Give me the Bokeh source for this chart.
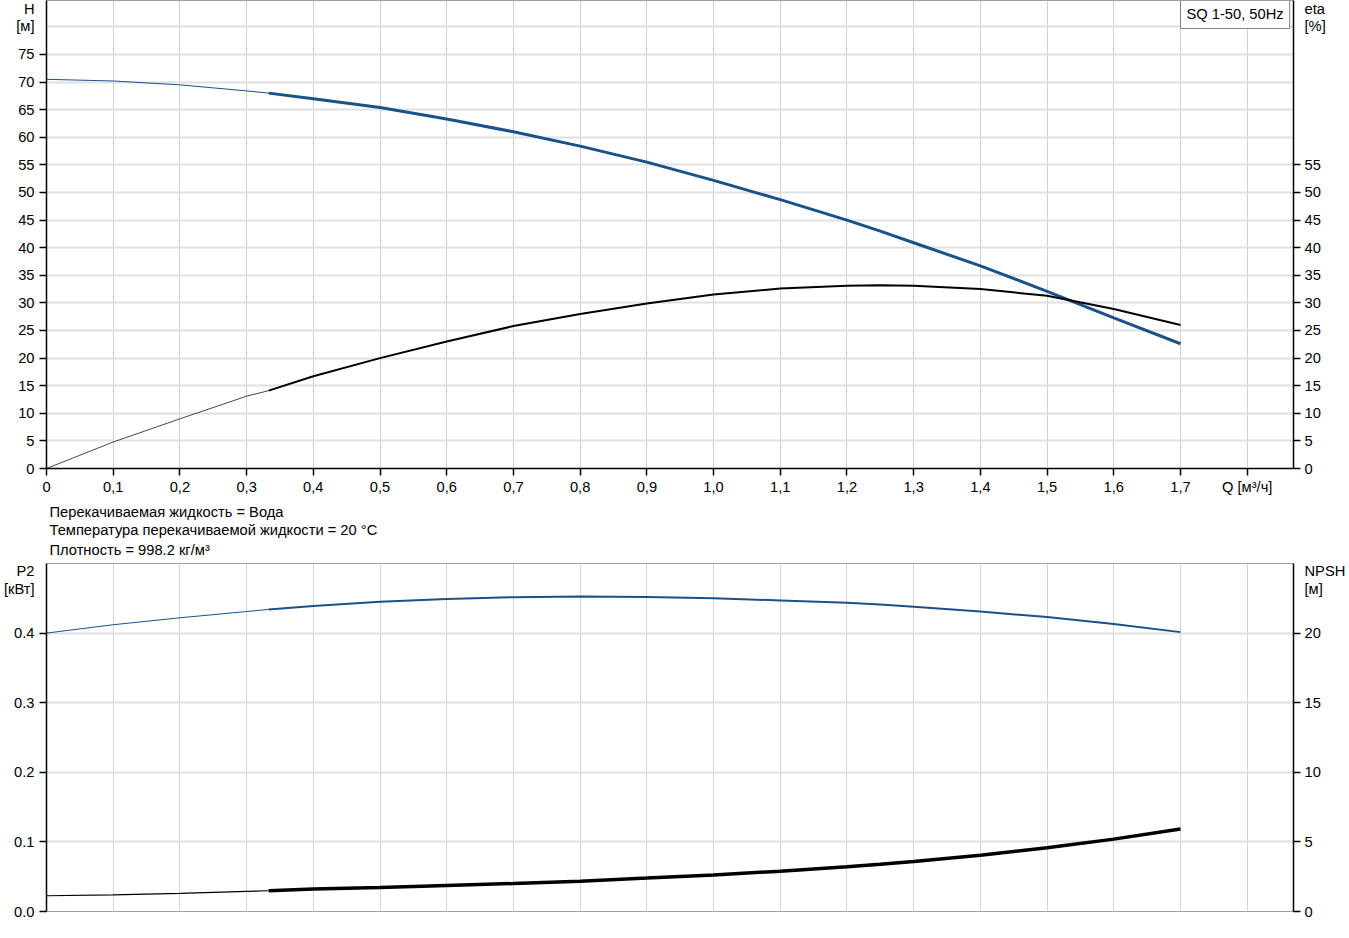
from bokeh.plotting import figure
from bokeh.models import (Range1d, LinearAxis, FixedTicker, Label, Title)
from bokeh.layouts import column
from bokeh.embed import file_html
from bokeh.resources import INLINE

# ---------------- data ----------------
Q = [0.0, 0.1, 0.2, 0.3, 0.333, 0.4, 0.5, 0.6, 0.7, 0.8, 0.9,
     1.0, 1.1, 1.2, 1.25, 1.3, 1.4, 1.5, 1.6, 1.7]
H = [70.5, 70.2, 69.5, 68.4, 68.0, 67.0, 65.4, 63.3, 61.0, 58.4, 55.5,
     52.2, 48.7, 45.0, 43.0, 40.9, 36.7, 32.1, 27.3, 22.6]
ETA = [0.0, 4.8, 9.0, 13.1, 14.1, 16.7, 20.0, 23.0, 25.8, 28.0, 29.9,
       31.5, 32.6, 33.1, 33.2, 33.1, 32.5, 31.3, 28.9, 26.0]
P2 = [0.400, 0.412, 0.422, 0.431, 0.434, 0.439, 0.445, 0.449, 0.4516, 0.4526, 0.452,
      0.450, 0.447, 0.4435, 0.441, 0.438, 0.431, 0.423, 0.413, 0.4014]
NPSH = [1.13, 1.20, 1.30, 1.44, 1.49, 1.61, 1.73, 1.87, 2.01, 2.18, 2.40,
        2.63, 2.90, 3.22, 3.40, 3.60, 4.04, 4.58, 5.20, 5.92]
SPLIT = 4  # index where the duty range (thick line) begins

X_TICKS = [0.0, 0.1, 0.2, 0.3, 0.4, 0.5, 0.6, 0.7, 0.8, 0.9,
           1.0, 1.1, 1.2, 1.3, 1.4, 1.5, 1.6, 1.7, 1.8]
X_LABELS = ["0", "0,1", "0,2", "0,3", "0,4", "0,5", "0,6", "0,7", "0,8", "0,9",
            "1,0", "1,1", "1,2", "1,3", "1,4", "1,5", "1,6", "1,7", "Q [м³/ч]"]
H_TICKS = [0, 5, 10, 15, 20, 25, 30, 35, 40, 45, 50, 55, 60, 65, 70, 75]
H_GRID = [5, 10, 15, 20, 25, 30, 35, 40, 45, 50, 55, 60, 65, 70, 75, 80]
ETA_TICKS = [0, 5, 10, 15, 20, 25, 30, 35, 40, 45, 50, 55]
P2_TICKS = [0.0, 0.1, 0.2, 0.3, 0.4]
P2_LABELS = ["0.0", "0.1", "0.2", "0.3", "0.4"]
NPSH_TICKS = [0, 5, 10, 15, 20]

INFO_LINES = ["Перекачиваемая жидкость = Вода",
              "Температура перекачиваемой жидкости = 20 °C",
              "Плотность = 998.2 кг/м³"]
TITLE = "SQ 1-50, 50Hz"
H_UNIT = ["H", "[м]"]
ETA_UNIT = ["eta", "[%]"]
P2_UNIT = ["P2", "[кВт]"]
NPSH_UNIT = ["NPSH", "[м]"]

# ---------------- styling ----------------
FONT = "Liberation Sans"
FS = "14.7px"
BLUE = "#1a5189"
BLACK = "#000000"
X_MAX = 1.8694
H_MAX = 84.78
FRAME_W = 1247


def style_axis(ax, standoff=5):
    ax.axis_line_color = BLACK
    ax.axis_line_width = 1.5
    ax.major_tick_line_color = BLACK
    ax.major_tick_line_width = 1.5
    ax.major_tick_out = 7
    ax.major_tick_in = 0
    ax.minor_tick_line_color = None
    ax.major_label_text_font = FONT
    ax.major_label_text_font_size = FS
    ax.major_label_text_color = BLACK
    ax.major_label_standoff = standoff


def value_axis(ax, ticks, labels, unit_pos, unit_labels, standoff=5):
    """Numbered ticks carry the tick marks (drawn as minor ticks); the unit
    caption sits above them as extra, mark-less labels of the same axis."""
    style_axis(ax)
    ax.ticker = FixedTicker(ticks=list(ticks) + list(unit_pos), minor_ticks=list(ticks))
    ax.major_label_overrides = dict(zip(list(ticks) + list(unit_pos),
                                        list(labels) + list(unit_labels)))
    ax.major_tick_line_color = None
    ax.major_tick_out = 0
    ax.major_label_standoff = standoff
    ax.minor_tick_line_color = BLACK
    ax.minor_tick_line_width = 1.5
    ax.minor_tick_out = 7
    ax.minor_tick_in = 0


# ---------------- top chart: H and eta ----------------
p1 = figure(frame_width=FRAME_W, frame_height=468,
            x_range=Range1d(0, X_MAX), y_range=Range1d(0, H_MAX),
            output_backend="svg", toolbar_location=None,
            min_border_left=45, min_border_right=56, min_border_top=0, min_border_bottom=32)
p1.extra_y_ranges = {"eta": Range1d(0, H_MAX)}
p1.outline_line_color = "#a0a0a0"

p1.xaxis.ticker = FixedTicker(ticks=X_TICKS)
p1.xaxis.major_label_overrides = dict(zip(X_TICKS, X_LABELS))
style_axis(p1.xaxis[0], standoff=3)
value_axis(p1.yaxis[0], H_TICKS, [str(t) for t in H_TICKS], [80.25, 83.3], H_UNIT[::-1])

ax_eta = LinearAxis(y_range_name="eta")
value_axis(ax_eta, ETA_TICKS, [str(t) for t in ETA_TICKS], [80.25, 83.3], ETA_UNIT[::-1], standoff=4)
p1.add_layout(ax_eta, "right")

p1.xgrid.ticker = FixedTicker(ticks=X_TICKS)
p1.ygrid.ticker = FixedTicker(ticks=H_GRID)
p1.xgrid.grid_line_color = "#cfcfcf"
p1.xgrid.grid_line_width = 1
p1.ygrid.grid_line_color = "#e0e0e0"
p1.ygrid.grid_line_width = 2

# H curve
p1.line(Q[:SPLIT + 1], H[:SPLIT + 1], line_color=BLUE, line_width=1)
p1.line(Q[SPLIT:], H[SPLIT:], line_color=BLUE, line_width=3)
# eta curve
p1.line(Q[:SPLIT + 1], ETA[:SPLIT + 1], line_color="#333333", line_width=0.9, y_range_name="eta")
p1.line(Q[SPLIT:], ETA[SPLIT:], line_color=BLACK, line_width=2, y_range_name="eta")

box = Label(x=1.700, y=82.25, text=TITLE, text_font=FONT, text_font_size=FS,
            text_color=BLACK, text_align="left", text_baseline="middle",
            background_fill_color="white", border_line_color="#808080",
            border_line_width=1, padding=6)
p1.add_layout(box)

# ---------------- bottom chart: P2 and NPSH ----------------
p2 = figure(frame_width=FRAME_W, frame_height=348,
            x_range=Range1d(0, X_MAX), y_range=Range1d(0, 0.5),
            output_backend="svg", toolbar_location=None,
            min_border_left=45, min_border_right=56, min_border_top=63, min_border_bottom=14)
p2.extra_y_ranges = {"npsh": Range1d(0, 25)}
p2.outline_line_color = "#a0a0a0"
p2.xaxis.visible = False
value_axis(p2.yaxis[0], P2_TICKS, P2_LABELS, [0.4631, 0.4889], P2_UNIT[::-1])

ax_npsh = LinearAxis(y_range_name="npsh")
value_axis(ax_npsh, NPSH_TICKS, [str(t) for t in NPSH_TICKS], [23.15, 24.44], NPSH_UNIT[::-1], standoff=4)
p2.add_layout(ax_npsh, "right")

p2.xgrid.ticker = FixedTicker(ticks=X_TICKS)
p2.ygrid.ticker = FixedTicker(ticks=P2_TICKS)
p2.xgrid.grid_line_color = "#d4d4d4"
p2.xgrid.grid_line_width = 1
p2.ygrid.grid_line_color = "#e0e0e0"
p2.ygrid.grid_line_width = 2

p2.line(Q[:SPLIT + 1], P2[:SPLIT + 1], line_color=BLUE, line_width=1)
p2.line(Q[SPLIT:], P2[SPLIT:], line_color=BLUE, line_width=2)
p2.line(Q[:SPLIT + 1], NPSH[:SPLIT + 1], line_color=BLACK, line_width=1.2, y_range_name="npsh")
p2.line(Q[SPLIT:], NPSH[SPLIT:], line_color=BLACK, line_width=3.5, y_range_name="npsh")

# info lines above the lower chart (first added sits closest to the frame)
for i, s in enumerate(reversed(INFO_LINES)):
    p2.add_layout(Title(text=s, align="left", offset=3, text_font=FONT,
                        text_font_size=FS, text_font_style="normal",
                        text_color=BLACK, standoff=8 if i == 0 else 0,
                        vertical_align="top" if i == 0 else "bottom"), "above")

layout = column(p1, p2, spacing=0)
open("out.html", "w").write(file_html(layout, INLINE))
